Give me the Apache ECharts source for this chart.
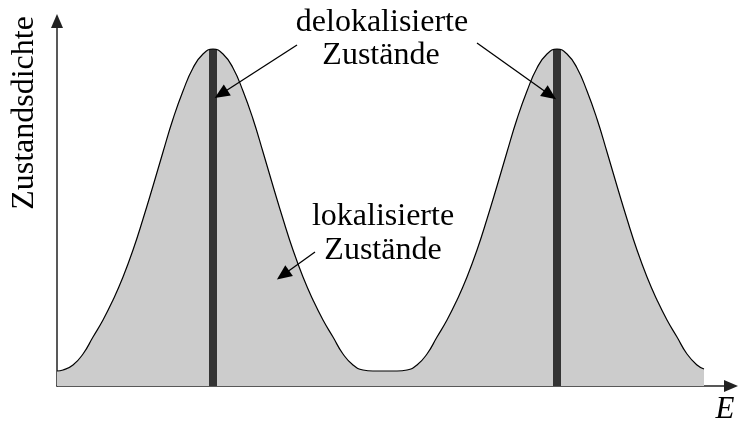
<!DOCTYPE html>
<html>
<head>
<meta charset="utf-8">
<script src="https://cdn.jsdelivr.net/npm/echarts@6/dist/echarts.min.js"></script>
<style>
  html, body { margin: 0; padding: 0; background: #fff; }
  #chart { width: 738px; height: 423px; }
</style>
</head>
<body>
<div id="chart"></div>
<script>
// Zustandsdichte ueber E, zwei Baender mit Auslaeufern
var energy = [0, 6, 16, 26, 36, 46, 56, 66, 76, 86, 96, 106, 116, 126, 136, 146, 156,
  166, 176, 186, 196, 206, 216, 226, 236, 246, 256, 266, 276, 286, 296, 306, 316,
  330, 340, 350, 360, 370, 380, 390, 400, 410, 420, 430, 440, 450, 460, 470, 480,
  490, 500, 510, 520, 530, 540, 550, 560, 570, 580, 590, 600, 610, 620, 630, 640, 647];
var density = [15, 16, 21, 32, 49, 66, 86, 109, 136, 167, 200, 234, 267, 295, 318, 332, 337,
  332, 318, 295, 267, 234, 200, 167, 136, 109, 86, 66, 49, 32, 21, 16, 15,
  15, 15, 16, 21, 32, 49, 66, 86, 109, 136, 167, 200, 234, 267, 295, 318,
  332, 337, 332, 318, 295, 267, 234, 200, 167, 136, 109, 86, 66, 49, 32, 21, 17];

// delokalisierte Zustaende (Bandmitten)
var bandCenters = [156, 500];
var bandHeights = [337, 337];

// Pfeile: [von, nach] in Datenkoordinaten
var arrowsDeloc = [
  [[240, 341], [164, 292]],
  [[420, 343], [493, 291]]
];
var arrowsLoc = [
  [[258, 134], [226, 111]]
];

var curve = energy.map(function (e, i) { return [e, density[i]]; });
var bands = bandCenters.map(function (e, i) { return [e, bandHeights[i]]; });
var arrowLines = arrowsDeloc.concat(arrowsLoc).map(function (a) {
  return [{ coord: a[0] }, { coord: a[1] }];
});

var serif = 'Liberation Serif';

var myChart = echarts.init(document.getElementById('chart'));
var option = {
  backgroundColor: '#fff',
  animation: false,
  grid: { left: 57, right: 7, top: 21, bottom: 37 },
  xAxis: {
    type: 'value',
    min: 0,
    max: 674,
    axisLine: {
      symbol: ['none', 'triangle'],
      symbolSize: [12, 14],
      lineStyle: { color: '#222', width: 1.5 }
    },
    axisTick: { show: false },
    axisLabel: { show: false },
    splitLine: { show: false }
  },
  yAxis: {
    type: 'value',
    min: 0,
    max: 365,
    axisLine: {
      show: true,
      symbol: ['none', 'triangle'],
      symbolSize: [12, 14],
      lineStyle: { color: '#222', width: 1.5 }
    },
    axisTick: { show: false },
    axisLabel: { show: false },
    splitLine: { show: false }
  },
  series: [
    {
      type: 'line',
      data: curve,
      smooth: true,
      showSymbol: false,
      lineStyle: { color: '#000', width: 1.2 },
      areaStyle: { color: '#cccccc', opacity: 1 },
      markLine: {
        silent: true,
        symbol: ['none', 'triangle'],
        symbolSize: [13, 15],
        label: { show: false },
        lineStyle: { color: '#000', width: 1.3, type: 'solid' },
        data: arrowLines,
        z: 10
      }
    },
    {
      type: 'custom',
      data: bands,
      z: 3,
      renderItem: function (params, api) {
        var top = api.coord([api.value(0), api.value(1)]);
        var bottom = api.coord([api.value(0), 0]);
        return {
          type: 'rect',
          shape: { x: top[0] - 4, y: top[1], width: 8, height: bottom[1] - top[1] },
          style: { fill: '#333333' }
        };
      }
    }
  ],
  graphic: [
    {
      type: 'text', x: 25, y: 113, rotation: Math.PI / 2,
      style: { text: 'Zustandsdichte', font: '32px "' + serif + '"', fill: '#000', textAlign: 'center', textVerticalAlign: 'middle' }
    },
    {
      type: 'text', x: 382, y: 23,
      style: { text: 'delokalisierte', font: '32px "' + serif + '"', fill: '#000', textAlign: 'center', textVerticalAlign: 'middle' }
    },
    {
      type: 'text', x: 381, y: 56,
      style: { text: 'Zustände', font: '32px "' + serif + '"', fill: '#000', textAlign: 'center', textVerticalAlign: 'middle' }
    },
    {
      type: 'text', x: 383, y: 217,
      style: { text: 'lokalisierte', font: '32px "' + serif + '"', fill: '#000', textAlign: 'center', textVerticalAlign: 'middle' }
    },
    {
      type: 'text', x: 383, y: 251,
      style: { text: 'Zustände', font: '32px "' + serif + '"', fill: '#000', textAlign: 'center', textVerticalAlign: 'middle' }
    },
    {
      type: 'text', x: 725, y: 410,
      style: { text: 'E', font: 'italic 31px "' + serif + '"', fill: '#000', textAlign: 'center', textVerticalAlign: 'middle' }
    }
  ]
};
myChart.setOption(option);
</script>
</body>
</html>
